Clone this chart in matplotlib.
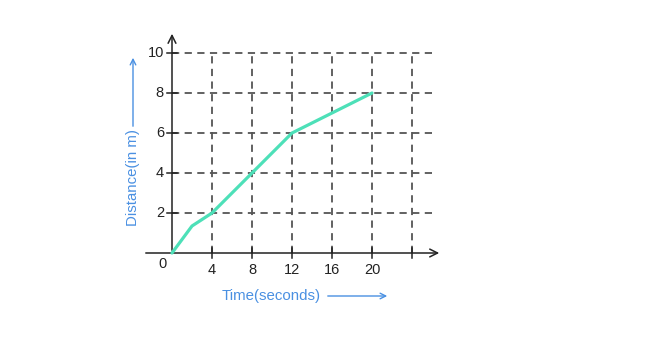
import matplotlib.pyplot as plt

plt.rcParams['font.family'] = ['Liberation Sans', 'DejaVu Sans']

# data
time_s = [0, 2, 4, 8, 12, 16, 20]
distance_m = [0, 1.35, 2, 4, 6, 7, 8]
x_ticks = [4, 8, 12, 16, 20]
y_ticks = [2, 4, 6, 8, 10]
x_grid = [4, 8, 12, 16, 20, 24]

W, H = 662, 346
fig = plt.figure(figsize=(W / 100, H / 100), dpi=100)

# axes box in pixels: data x -> 172 + 10*x, data y -> 253 - 20*y
x0, x1 = -3.0, 28.0
y0, y1 = -1.5, 11.5
left = (172 + 10 * x0) / W
right = (172 + 10 * x1) / W
bottom = 1 - (253 - 20 * y0) / H
top = 1 - (253 - 20 * y1) / H
ax = fig.add_axes([left, bottom, right - left, top - bottom])
ax.set_xlim(x0, x1)
ax.set_ylim(y0, y1)
ax.axis('off')

grid_style = dict(color='#555555', lw=1.3, ls=(0, (4, 3)), zorder=1)
for gx in x_grid:
    ax.plot([gx, gx], [0, 10], **grid_style)
for gy in y_ticks:
    ax.plot([0, 26], [gy, gy], **grid_style)

# axes with arrows
ax.annotate('', xy=(27, 0), xytext=(-2.9, 0), annotation_clip=False,
            arrowprops=dict(arrowstyle='->', color='#222222', lw=1.1,
                            mutation_scale=14), zorder=2)
ax.annotate('', xy=(0, 11.1), xytext=(0, 0), annotation_clip=False,
            arrowprops=dict(arrowstyle='->', color='#222222', lw=1.1,
                            mutation_scale=14), zorder=2)

# tick marks
for t in x_ticks + [24]:
    ax.plot([t, t], [-0.27, 0.27], color='#222222', lw=1.1, zorder=2)
for t in y_ticks:
    ax.plot([-0.5, 0.5], [t, t], color='#222222', lw=1.1, zorder=2)

for t in x_ticks:
    ax.text(t, -0.5, str(t), ha='center', va='top', fontsize=10.5, color='#222222')
for t in y_ticks:
    ax.text(-0.8, t, str(t), ha='right', va='center', fontsize=10.5, color='#222222')
ax.text(-0.5, -0.2, '0', ha='right', va='top', fontsize=10.5, color='#222222')

ax.plot(time_s, distance_m, color='#4de0b8', lw=2.3, zorder=3,
        solid_capstyle='round', solid_joinstyle='round')

blue = '#4a90e2'
ax.text(5.0, -2.15, 'Time(seconds)', ha='left', va='center', fontsize=10.8, color=blue)
ax.annotate('', xy=(21.8, -2.15), xytext=(15.3, -2.15), annotation_clip=False,
            arrowprops=dict(arrowstyle='->', color=blue, lw=1.0, mutation_scale=10))
ax.text(-3.9, 3.8, 'Distance(in m)', ha='center', va='center', rotation=90,
        fontsize=10.8, color=blue)
ax.annotate('', xy=(-3.9, 9.9), xytext=(-3.9, 6.2), annotation_clip=False,
            arrowprops=dict(arrowstyle='->', color=blue, lw=1.0, mutation_scale=10))

for artist in ax.get_children():
    artist.set_clip_on(False)

fig.savefig('out.png', dpi=100)
